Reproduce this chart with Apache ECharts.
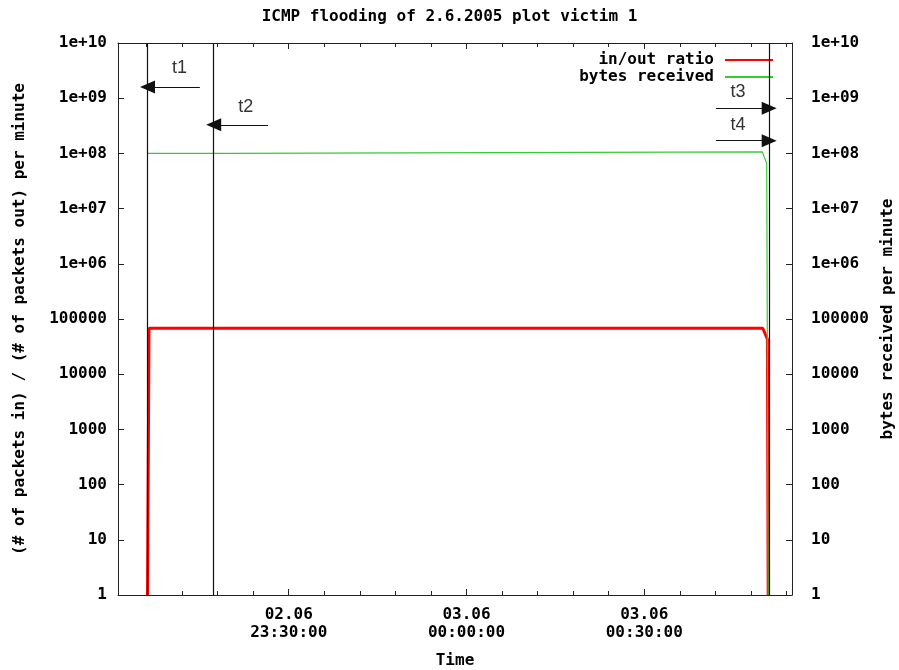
<!DOCTYPE html>
<html>
<head>
<meta charset="utf-8">
<script src="https://cdn.jsdelivr.net/npm/echarts@6/dist/echarts.min.js"></script>
<style>
  html, body { margin: 0; padding: 0; background: #fff; }
  #main { width: 899px; height: 670px; }
</style>
</head>
<body>
<div id="main"></div>
<script>
// times are "dd.mm hh:mm:ss", all on the night of 02.06 -> 03.06.2005
const ratioTimes  = ['02.06 23:06:10', '02.06 23:06:25', '03.06 00:50:00', '03.06 00:50:47', '03.06 00:50:55'];
const ratioValues = [1, 68000, 68000, 43000, 1];

const bytesTimes  = ['02.06 23:06:10', '02.06 23:20:00', '02.06 23:20:10', '03.06 00:49:55', '03.06 00:50:40', '03.06 00:50:55'];
const bytesValues = [1.0e8, 1.0e8, 1.07e8, 1.07e8, 6.6e7, 1];

const markerTimes = { t1: '02.06 23:06:10', t2: '02.06 23:17:20', t3: '03.06 00:51:05', t4: '03.06 00:51:05' };

const majorTicks = ['02.06 23:30:00', '03.06 00:00:00', '03.06 00:30:00'];
const xRange = ['02.06 23:01:11', '03.06 00:54:56'];

const FONT = 'DejaVu Sans Mono';

// minutes since 02.06 00:00
function toMin(s) {
    let [d, t] = s.split(' ');
    let day = parseInt(d.split('.')[0], 10) - 2;
    let [h, m, sec] = t.split(':').map(Number);
    return day * 1440 + h * 60 + m + sec / 60;
}
function fmtTime(v) {
    let m = Math.round(v);
    let day = m >= 1440 ? '03.06' : '02.06';
    m = m % 1440;
    let hh = String(Math.floor(m / 60)).padStart(2, '0');
    let mm = String(m % 60).padStart(2, '0');
    return day + '\n' + hh + ':' + mm + ':00';
}
function fmtLog(v) {
    if (v < 1e6) return String(Math.round(v));
    return '1e+' + String(Math.round(Math.log10(v))).padStart(2, '0');
}

const xMin = toMin(xRange[0]), xMax = toMin(xRange[1]);
const majors = majorTicks.map(toMin);
let minors = [];
for (let m = 1386; m <= 1494; m += 6) {
    if (majors.indexOf(m) < 0) minors.push(m);
}

const ratioData = ratioTimes.map((t, i) => [toMin(t), ratioValues[i]]);
const bytesData = bytesTimes.map((t, i) => [toMin(t), bytesValues[i]]);

function arrow(from, to, y) {
    return [
        { coord: [toMin(from), y], symbol: 'none' },
        { coord: [toMin(to), y], symbol: 'triangle', symbolSize: [13, 15] }
    ];
}

let chart = echarts.init(document.getElementById('main'));

const axisLine = { show: true, lineStyle: { color: '#222', width: 1 } };

function xAxis(pos, ticks, len, main) {
    return {
        type: 'value', position: pos, min: xMin, max: xMax,
        axisLine: main ? axisLine : { show: false },
        axisTick: { show: true, inside: true, length: len, customValues: ticks, lineStyle: { color: '#222' } },
        axisLabel: main && pos === 'bottom' ? {
            show: true, customValues: majors, formatter: fmtTime, margin: 11,
            fontFamily: FONT, fontWeight: 'bold', fontSize: 16, color: '#000', lineHeight: 18
        } : { show: false },
        splitLine: { show: false },
        name: main && pos === 'bottom' ? 'Time' : '',
        nameLocation: 'middle', nameGap: 58,
        nameTextStyle: { fontFamily: FONT, fontWeight: 'bold', fontSize: 16, color: '#000' }
    };
}

function yAxis(pos, name, labelMargin, nameGap) {
    return {
        type: 'log', logBase: 10, min: 1, max: 1e10, position: pos,
        interval: 1, splitNumber: 10,
        axisLine: axisLine,
        axisTick: { show: true, inside: true, length: 6, lineStyle: { color: '#222' } },
        axisLabel: {
            formatter: fmtLog, margin: labelMargin, showMinLabel: true, showMaxLabel: true,
            fontFamily: FONT, fontWeight: 'bold', fontSize: 16, color: '#000'
        },
        splitLine: { show: false },
        name: name, nameLocation: 'middle', nameRotate: 90, nameGap: nameGap,
        nameTextStyle: { fontFamily: FONT, fontWeight: 'bold', fontSize: 16, color: '#000' }
    };
}

let options = {
    animation: false,
    backgroundColor: '#fff',
    title: {
        text: 'ICMP flooding of 2.6.2005 plot victim 1',
        left: 'center', top: 4,
        textStyle: { fontFamily: FONT, fontWeight: 'bold', fontSize: 16, color: '#000' }
    },
    legend: {
        orient: 'vertical', align: 'right', right: 120, top: 47,
        itemWidth: 48, itemHeight: 14, itemGap: 1,
        itemStyle: { opacity: 0 },
        textStyle: { fontFamily: FONT, fontWeight: 'bold', fontSize: 16, color: '#000', padding: [0, 6, 0, 0] },
        data: ['in/out ratio', 'bytes received']
    },
    grid: { left: 118, right: 107, top: 43, bottom: 75, outerBoundsMode: 'none' },
    xAxis: [
        xAxis('bottom', majors, 6, true),
        xAxis('bottom', minors, 4, false),
        xAxis('top', majors, 6, true),
        xAxis('top', minors, 4, false)
    ],
    yAxis: [
        yAxis('left', '(# of packets in) / (# of packets out) per minute', 11, 90),
        yAxis('right', 'bytes received per minute', 19, 88)
    ],
    series: [
        {
            name: 'in/out ratio', type: 'line', xAxisIndex: 0, yAxisIndex: 0,
            data: ratioData, symbol: 'none', silent: true,
            lineStyle: { color: '#ff0000', width: 3 }, itemStyle: { color: '#ff0000' },
            markLine: {
                silent: true, symbol: ['none', 'none'], animation: false,
                label: { show: false },
                lineStyle: { color: '#111', width: 1.2, type: 'solid' },
                data: [
                    { xAxis: toMin(markerTimes.t1) },
                    { xAxis: toMin(markerTimes.t2) },
                    { xAxis: toMin(markerTimes.t3) },
                    arrow('02.06 23:15:00', markerTimes.t1, 1.6e9),
                    arrow('02.06 23:26:30', markerTimes.t2, 3.3e8),
                    arrow('03.06 00:42:05', markerTimes.t3, 6.6e8),
                    arrow('03.06 00:42:05', markerTimes.t4, 1.7e8)
                ]
            },
            markPoint: {
                silent: true, symbol: 'circle', symbolSize: 0,
                label: { show: true, position: 'inside', formatter: '{b}', fontFamily: 'Liberation Sans', fontSize: 18, color: '#333' },
                data: [
                    { name: 't1', coord: [toMin('02.06 23:11:35'), 3.5e9] },
                    { name: 't2', coord: [toMin('02.06 23:22:45'), 6.9e8] },
                    { name: 't3', coord: [toMin('03.06 00:45:50'), 1.3e9] },
                    { name: 't4', coord: [toMin('03.06 00:45:50'), 3.3e8] }
                ]
            }
        },
        {
            name: 'bytes received', type: 'line', xAxisIndex: 0, yAxisIndex: 1,
            data: bytesData, symbol: 'none', silent: true,
            lineStyle: { color: '#33cc33', width: 1.2 }, itemStyle: { color: '#33cc33' }
        }
    ]
};

chart.setOption(options);
</script>
</body>
</html>
